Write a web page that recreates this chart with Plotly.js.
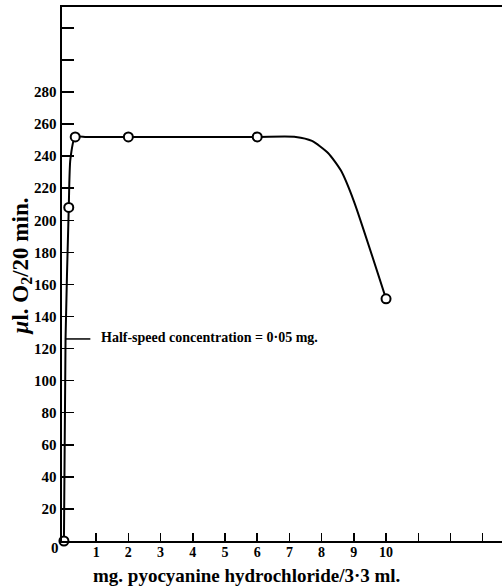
<!DOCTYPE html>
<html>
<head>
<meta charset="utf-8">
<script src="https://cdn.plot.ly/plotly-3.0.1.min.js"></script>
<style>
  html, body { margin: 0; padding: 0; background: #fff; }
  #chart { width: 502px; height: 586px; }
</style>
</head>
<body>
<div id="chart"></div>
<script>
// Measured oxygen uptake against pyocyanine dose
const doseMg = [0, 0.15, 0.35, 2, 6, 10];
const uptakeUl = [0, 208, 252, 252, 252, 151];

// Hand-drawn smooth curve through the measurements
const curveX = [0, 0.05, 0.15, 0.2, 0.35, 0.7, 2, 6, 7.2, 7.7, 8.2, 8.6, 9.0, 10];
const curveY = [0, 126, 208, 238, 252, 252, 252, 252, 252, 249.5, 242, 231, 212, 151];

// Half-speed marker: half of the plateau, reached at 0.05 mg
const halfSpeedDose = 0.05;
const halfSpeedUptake = 126;
const halfSpeedLabel = 'Half-speed concentration = 0·05 mg.';

// Axis ticks
const xTickVals = [1, 2, 3, 4, 5, 6, 7, 8, 9, 10, 11, 12, 13];
const xTickText = ['1', '2', '3', '4', '5', '6', '7', '8', '9', '10', '', '', ''];
const yTickVals = [20, 40, 60, 80, 100, 120, 140, 160, 180, 200, 220, 240, 260, 280, 300, 320];
const yTickText = ['20', '40', '60', '80', '100', '120', '140', '160', '180', '200', '220', '240', '260', '280', '', ''];

const serif = "'Liberation Serif', 'Times New Roman', serif";

const traces = [
  {
    x: curveX, y: curveY, type: 'scatter', mode: 'lines',
    line: { color: '#000', width: 2, shape: 'spline', smoothing: 0.6 },
    hoverinfo: 'skip', cliponaxis: false
  },
  {
    x: doseMg, y: uptakeUl, type: 'scatter', mode: 'markers',
    marker: { symbol: 'circle', size: 9, color: '#fff', line: { color: '#000', width: 2 } },
    cliponaxis: false
  }
];

const layout = {
  width: 502, height: 586,
  margin: { l: 62, r: 0, t: 7, b: 45 },
  paper_bgcolor: '#fff', plot_bgcolor: '#fff',
  showlegend: false,
  font: { family: serif, color: '#000' },
  xaxis: {
    range: [-0.06, 13.6], showgrid: false, zeroline: false,
    showline: true, linecolor: '#000', linewidth: 2, mirror: true,
    ticks: 'inside', ticklen: 8, tickwidth: 1.5, tickcolor: '#000',
    tickvals: xTickVals, ticktext: xTickText, ticklabelstandoff: -3,
    tickfont: { family: serif, size: 14, weight: 'bold', color: '#000' }
  },
  yaxis: {
    range: [0, 333], showgrid: false, zeroline: false,
    showline: true, linecolor: '#000', linewidth: 2.5,
    ticks: 'inside', ticklen: 12, tickwidth: 1.5, tickcolor: '#000',
    tickvals: yTickVals, ticktext: yTickText,
    tickfont: { family: serif, size: 15, weight: 'bold', color: '#000' }
  },
  shapes: [
    {
      type: 'line', xref: 'x', yref: 'y',
      x0: halfSpeedDose, x1: 0.82, y0: halfSpeedUptake, y1: halfSpeedUptake,
      line: { color: '#000', width: 1.5 }
    }
  ],
  annotations: [
    {
      text: '<b>' + halfSpeedLabel + '</b>', xref: 'x', yref: 'y',
      x: 1.1, y: halfSpeedUptake + 1, xanchor: 'left', yanchor: 'middle',
      showarrow: false, font: { family: serif, size: 14, color: '#000' }
    },
    {
      text: '<b>0</b>', xref: 'paper', yref: 'paper',
      x: -0.016, y: -0.013, xanchor: 'center', yanchor: 'middle',
      showarrow: false, font: { family: serif, size: 15, color: '#000' }
    },
    {
      text: '<b>mg. pyocyanine hydrochloride/3·3 ml.</b>', xref: 'paper', yref: 'paper',
      x: 0.42, y: -0.064, xanchor: 'center', yanchor: 'middle',
      showarrow: false, font: { family: serif, size: 19, color: '#000' }
    },
    {
      text: '<b><i>μ</i>l. O<sub>2</sub>/20 min.</b>', xref: 'paper', yref: 'paper',
      x: -0.091, y: 0.516, xanchor: 'center', yanchor: 'middle', textangle: -90,
      showarrow: false, font: { family: serif, size: 23, color: '#000' }
    }
  ]
};

Plotly.newPlot('chart', traces, layout, { displayModeBar: false, staticPlot: true });
</script>
</body>
</html>
